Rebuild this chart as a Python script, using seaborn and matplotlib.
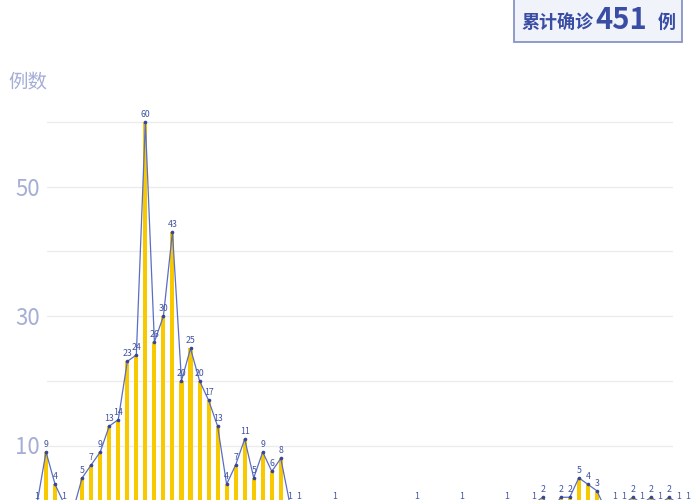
import numpy as np
import pandas as pd
import matplotlib
matplotlib.use("Agg")
import matplotlib.pyplot as plt
from matplotlib.patches import Rectangle
import seaborn as sns

# ---- data ----
day_index = list(range(73))
cases = [1, 9, 4, 1, 0, 5, 7, 9, 13, 14,
         23, 24, 60, 26, 30, 43, 20, 25, 20, 17,
         13, 4, 7, 11, 5, 9, 6, 8, 1, 1,
         0, 0, 0, 1, 0, 0, 0, 0, 0, 0,
         0, 0, 1, 0, 0, 0, 0, 1, 0, 0,
         0, 0, 1, 0, 0, 1, 2, 0, 2, 2,
         5, 4, 3, 0, 1, 1, 2, 1, 2, 1,
         2, 1, 1]
ytick_values = [10, 30, 50]
grid_values = [10, 20, 30, 40, 50, 60]
total_label = ["累计确诊", "451", "例"]
ylabel_text = "例数"

sns.set_style("white")
plt.rcParams['font.family'] = ['Noto Sans CJK SC', 'DejaVu Sans']

W, H = 700, 500
fig = plt.figure(figsize=(7, 5), dpi=100)
fig.patch.set_facecolor("white")

# axes geometry in pixels
ax_left, ax_right, ax_top, ax_bottom = 47, 673, 100, 500
ax = fig.add_axes([ax_left / W, 1 - ax_bottom / H, (ax_right - ax_left) / W, (ax_bottom - ax_top) / H])

df = pd.DataFrame({"idx": day_index, "cases": cases})

bar_color = "#f9c900"
line_color = "#5a6ec4"
label_color = "#41539f"
axis_text_color = "#a5aed6"

sns.barplot(data=df, x="idx", y="cases", color=bar_color, width=0.45,
            saturation=1, ax=ax, native_scale=True, edgecolor="none")
sns.lineplot(data=df, x="idx", y="cases", color=line_color, linewidth=0.9,
             marker="o", markersize=2.6, markeredgewidth=0,
             markerfacecolor="#34469a", ax=ax)

for p in ax.patches:
    p.set_clip_on(False)
for ln in ax.lines:
    ln.set_clip_on(False)

for i, v in zip(day_index, cases):
    if v == 0:
        continue
    ax.annotate(str(v), (i, v), xytext=(0, 2.2), textcoords="offset points",
                ha="center", va="bottom", fontsize=6.3, color=label_color,
                annotation_clip=False)

# scales: index 0 at pixel 37, spacing 9.03 px; value 0 at pixel 510.2, 6.47 px/unit
x_at = lambda px: (px - 37) / 9.03
v_at = lambda py: (510.2 - py) / 6.47
ax.set_xlim(x_at(ax_left), x_at(ax_right))
ax.set_ylim(v_at(ax_bottom), v_at(ax_top))

ax.set_yticks(ytick_values)
ax.set_yticklabels([str(t) for t in ytick_values])
ax.set_yticks(grid_values, minor=True)
ax.tick_params(axis="y", which="both", length=0, pad=5, labelsize=16,
               labelcolor=axis_text_color)
ax.yaxis.grid(True, which="both", color="#ececec", linewidth=1)
ax.xaxis.grid(False)
ax.set_xticks([])
ax.set_xlabel("")
ax.set_ylabel("")
for s in ax.spines.values():
    s.set_visible(False)
ax.set_facecolor("none")
for lab in ax.get_yticklabels():
    lab.set_fontweight("light")

fig.text(8 / W, 1 - 83 / H, ylabel_text, ha="left", va="center",
         fontsize=14, color=axis_text_color)

# total box
box = Rectangle((514 / W, 1 - 42 / H), (682 - 514) / W, 44 / H,
                transform=fig.transFigure, facecolor="#f1f3fa",
                edgecolor="#8893c4", linewidth=1.3, zorder=5)
fig.patches.append(box)
title_color = "#3a4da4"
fig.text(521 / W, 1 - 22 / H, total_label[0], ha="left", va="center",
         fontsize=13, fontweight="bold", color=title_color, zorder=6)
fig.text(595 / W, 1 - 20 / H, total_label[1], ha="left", va="center",
         fontsize=21, fontweight="bold", color=title_color, zorder=6)
fig.text(658 / W, 1 - 22 / H, total_label[2], ha="left", va="center",
         fontsize=13, fontweight="bold", color=title_color, zorder=6)

fig.savefig("out.png", dpi=100)
